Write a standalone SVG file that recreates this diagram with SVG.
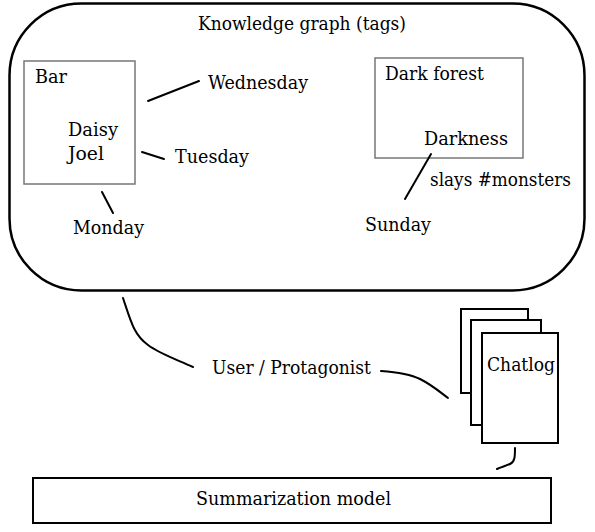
<svg xmlns="http://www.w3.org/2000/svg" width="595" height="532" viewBox="0 0 595 532">
<style>
.t{font-family:"DejaVu Serif","Liberation Serif",serif;font-size:18px;fill:#000}
.gbox{fill:none;stroke:#777;stroke-width:1.5}
.bbox{fill:#fff;stroke:#000;stroke-width:2}
.ln{fill:none;stroke:#000;stroke-width:2;stroke-linecap:round}
</style>
<rect width="595" height="532" fill="#fff"/>
<g id="knowledge-graph">
<rect x="9.5" y="3.5" width="575" height="287" rx="72" ry="72" fill="none" stroke="#000" stroke-width="2.5"/>
<text class="t" x="198" y="30" textLength="208" lengthAdjust="spacingAndGlyphs">Knowledge graph (tags)</text>
</g>
<g id="bar">
<rect class="gbox" x="24" y="61" width="111" height="123"/>
<text class="t" x="35" y="83" textLength="32" lengthAdjust="spacingAndGlyphs">Bar</text>
<text class="t" x="68" y="136" textLength="50" lengthAdjust="spacingAndGlyphs">Daisy</text>
<text class="t" x="68" y="160" textLength="36" lengthAdjust="spacingAndGlyphs">Joel</text>
</g>
<g id="wednesday"><text class="t" x="208" y="89" textLength="100" lengthAdjust="spacingAndGlyphs">Wednesday</text></g>
<g id="tuesday"><text class="t" x="175" y="163" textLength="74" lengthAdjust="spacingAndGlyphs">Tuesday</text></g>
<g id="monday"><text class="t" x="73" y="234" textLength="71" lengthAdjust="spacingAndGlyphs">Monday</text></g>
<g id="dark-forest">
<rect class="gbox" x="375" y="58" width="148" height="100"/>
<text class="t" x="385" y="80" textLength="99" lengthAdjust="spacingAndGlyphs">Dark forest</text>
<text class="t" x="424" y="145" textLength="84" lengthAdjust="spacingAndGlyphs">Darkness</text>
</g>
<g id="slays"><text class="t" x="430" y="186" textLength="141" lengthAdjust="spacingAndGlyphs">slays #monsters</text></g>
<g id="sunday"><text class="t" x="365" y="231" textLength="66" lengthAdjust="spacingAndGlyphs">Sunday</text></g>
<g id="user"><text class="t" x="212" y="374" textLength="159" lengthAdjust="spacingAndGlyphs">User / Protagonist</text></g>
<g id="chatlog">
<rect class="bbox" x="461" y="309" width="67" height="84"/>
<rect class="bbox" x="471" y="320" width="70" height="105"/>
<rect class="bbox" x="482" y="333" width="76" height="110"/>
<text class="t" x="487" y="371" textLength="68" lengthAdjust="spacingAndGlyphs">Chatlog</text>
</g>
<g id="summarization">
<rect class="bbox" x="33" y="478" width="518" height="45"/>
<text class="t" x="196" y="505" textLength="195" lengthAdjust="spacingAndGlyphs">Summarization model</text>
</g>
<g id="connectors">
<line class="ln" x1="148" y1="101" x2="199" y2="81"/>
<line class="ln" x1="142" y1="152" x2="164" y2="159"/>
<line class="ln" x1="102" y1="192" x2="113" y2="213"/>
<line class="ln" x1="431" y1="154" x2="405" y2="199"/>
<path class="ln" d="M123 298 C131 322 134 335 148 345 C160 354 178 360 193 367"/>
<path class="ln" d="M381 371 C395 372 410 374 420 379 C432 385 440 392 448 398"/>
<path class="ln" d="M515 448 C515 456 515 462 510 464 C506 466 501 467 497 469"/>
</g>
</svg>
